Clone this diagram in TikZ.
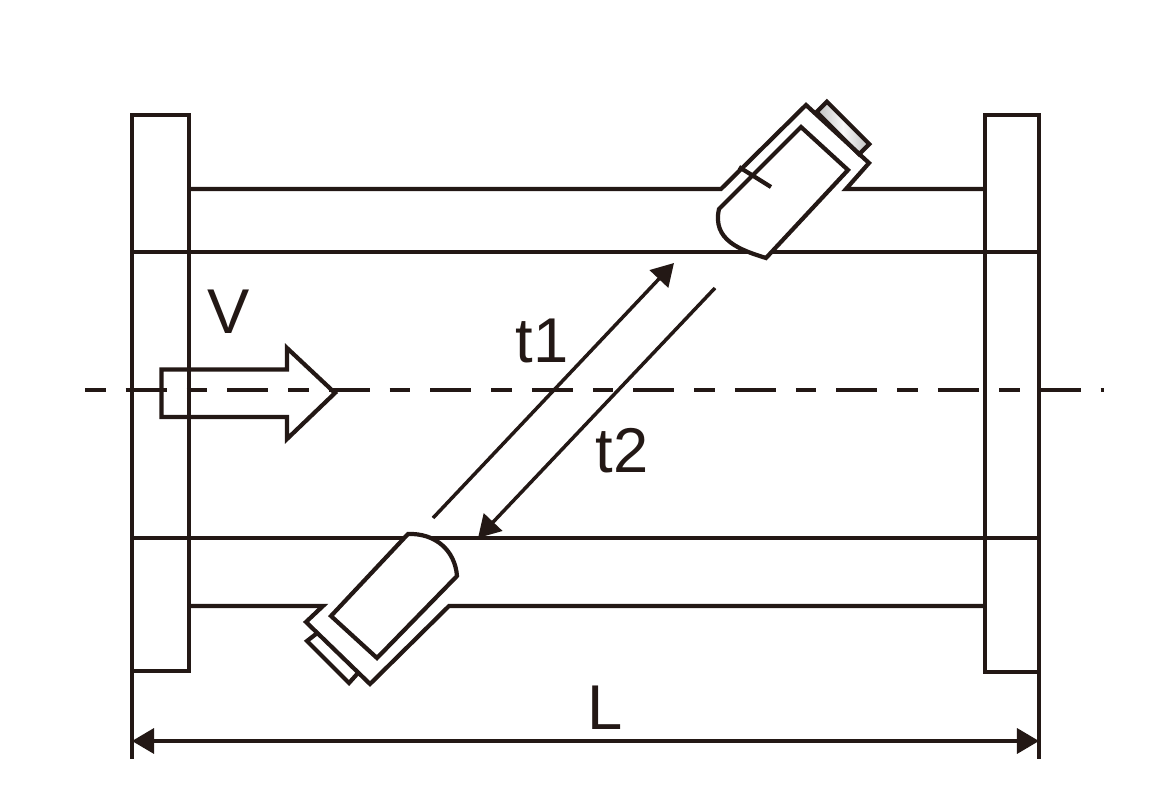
\documentclass[tikz,border=0pt]{standalone}
\usepackage{fontspec}
\setmainfont{Liberation Sans}
\usetikzlibrary{arrows.meta}
\definecolor{inkline}{RGB}{35,24,21}
\tikzset{
  pipeline/.style={inkline,line width=.042cm,line join=miter},
  centerline/.style={inkline,line width=.036cm,dash pattern=on .205cm off .2cm on .41cm off .2cm},
  flowarrow/.style={inkline,line width=.035cm,-{Triangle[length=.22cm,width=.25cm]}},
  lab/.style={inkline,font=\fontsize{18pt}{20pt}\selectfont,inner sep=0pt},
  capface/.style={pipeline,draw,rectangle,inner sep=0pt,minimum width=.6cm,minimum height=.145cm,rotate=-45,left color=gray!50,right color=gray!50,middle color=gray!5},
}
\begin{document}
\begin{tikzpicture}[x=.01cm,y=-.01cm]
  \useasboundingbox (0,0) rectangle (1157,788);
  % flanges
  \draw[pipeline] (132,115) rectangle (189,671);
  \draw[pipeline] (985,115) rectangle (1039,672);
  % pipe walls
  \draw[pipeline] (132,252) -- (1039,252);
  \draw[pipeline] (132,538) -- (1039,538);
  % center line
  \draw[centerline] (85,390) -- (1104,390);
  % upper housing
  \node[capface] (topcap) at (843,128) {};
  \draw[pipeline] (189,189) -- (721,189) -- (806,105) -- (869,163) -- (846,189) -- (984,189);
  \draw[pipeline,fill=white] (801,127) -- (848,170) -- (766,258) .. controls (740,250) and (712,240) .. (719,209) -- cycle;
  \draw[pipeline] (739,167) -- (771,187);
  % lower housing
  \draw[pipeline] (189,606) -- (323,606) -- (306,622) -- (370,684) -- (449,606) -- (984,606);
  \draw[pipeline] (316,634) -- (307,641) -- (349,683) -- (358,673);
  \draw[pipeline,fill=white] (331,616) -- (377,658) -- (457,576) .. controls (455,550) and (435,533) .. (408,534) -- cycle;
  % flow arrow
  \draw[pipeline] (161.5,369.5) -- (287,369.5) -- (287,348) -- (335,393) -- (287,439) -- (287,417) -- (161.5,417) -- cycle;
  % signal paths
  \coordinate (t1start) at (433,518);
  \coordinate (t1end) at (674,263);
  \coordinate (t2start) at (715,288);
  \coordinate (t2end) at (478,538);
  \draw[flowarrow] (t1start) -- (t1end);
  \draw[flowarrow] (t2start) -- (t2end);
  % dimension
  \coordinate (dimleft) at (132,741);
  \coordinate (dimright) at (1039,741);
  \draw[pipeline] (132,671) -- (132,759);
  \draw[pipeline] (1039,672) -- (1039,759);
  \draw[flowarrow,{Triangle[length=.22cm,width=.25cm]}-{Triangle[length=.22cm,width=.25cm]}] (dimleft) -- (dimright);
  % labels
  \node[lab] (vlabel) at (228.5,312) {V};
  \node[lab] (t1label) at (542,341) {t1};
  \node[lab] (t2label) at (622,451) {t2};
  \node[lab] (llabel) at (605,708) {L};
\end{tikzpicture}
\end{document}
